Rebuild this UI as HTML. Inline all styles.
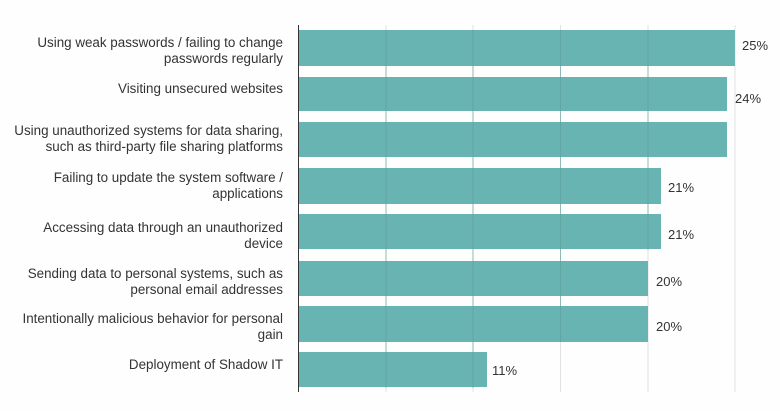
<!DOCTYPE html>
<html><head><style>
body{margin:0;background:#fff;}
svg text{font-family:"Liberation Sans",sans-serif;font-size:13.4px;fill:#333;}
svg .p{font-size:13px;}
</style></head><body>
<svg width="780" height="411" xmlns="http://www.w3.org/2000/svg">
<rect width="780" height="411" fill="#fefefe"/>
<g stroke="#e2e2e2" stroke-width="1">
<line x1="386" y1="25" x2="386" y2="392"/><line x1="473" y1="25" x2="473" y2="392"/>
<line x1="560.5" y1="25" x2="560.5" y2="392"/><line x1="648" y1="25" x2="648" y2="392"/>
<line x1="735" y1="25" x2="735" y2="392"/>
</g>
<g fill="#68b4b2">
<rect x="298" y="30" width="437" height="36"/>
<rect x="298" y="77" width="429" height="34"/>
<rect x="298" y="122" width="429" height="35"/>
<rect x="298" y="168" width="363" height="36"/>
<rect x="298" y="214" width="363" height="35"/>
<rect x="298" y="261" width="350" height="35"/>
<rect x="298" y="306" width="350" height="36"/>
<rect x="298" y="352" width="189" height="35"/>
</g>
<g stroke="#5a9e9c" stroke-width="1" opacity="0.6">
<line x1="386" y1="30" x2="386" y2="388"/><line x1="473" y1="30" x2="473" y2="388"/>
<line x1="560.5" y1="30" x2="560.5" y2="342"/><line x1="648" y1="30" x2="648" y2="250"/>
</g>
<line x1="298.5" y1="25" x2="298.5" y2="392" stroke="#333" stroke-width="1"/>
<g class="p">
<text class="p" x="742" y="50">25%</text>
<text class="p" x="735" y="103">24%</text>
<text class="p" x="668" y="192">21%</text>
<text class="p" x="668" y="239">21%</text>
<text class="p" x="656" y="286">20%</text>
<text class="p" x="656" y="331">20%</text>
<text class="p" x="492" y="375">11%</text>
</g>
<g text-anchor="end">
<text x="283" y="47">Using weak passwords / failing to change</text>
<text x="283" y="63">passwords regularly</text>
<text x="283" y="93">Visiting unsecured websites</text>
<text x="283" y="135">Using unauthorized systems for data sharing,</text>
<text x="283" y="151">such as third-party file sharing platforms</text>
<text x="283" y="182">Failing to update the system software /</text>
<text x="283" y="198">applications</text>
<text x="283" y="232">Accessing data through an unauthorized</text>
<text x="283" y="248">device</text>
<text x="283" y="278">Sending data to personal systems, such as</text>
<text x="283" y="294">personal email addresses</text>
<text x="283" y="323">Intentionally malicious behavior for personal</text>
<text x="283" y="339">gain</text>
<text x="283" y="369">Deployment of Shadow IT</text>
</g>
</svg>
</body></html>
